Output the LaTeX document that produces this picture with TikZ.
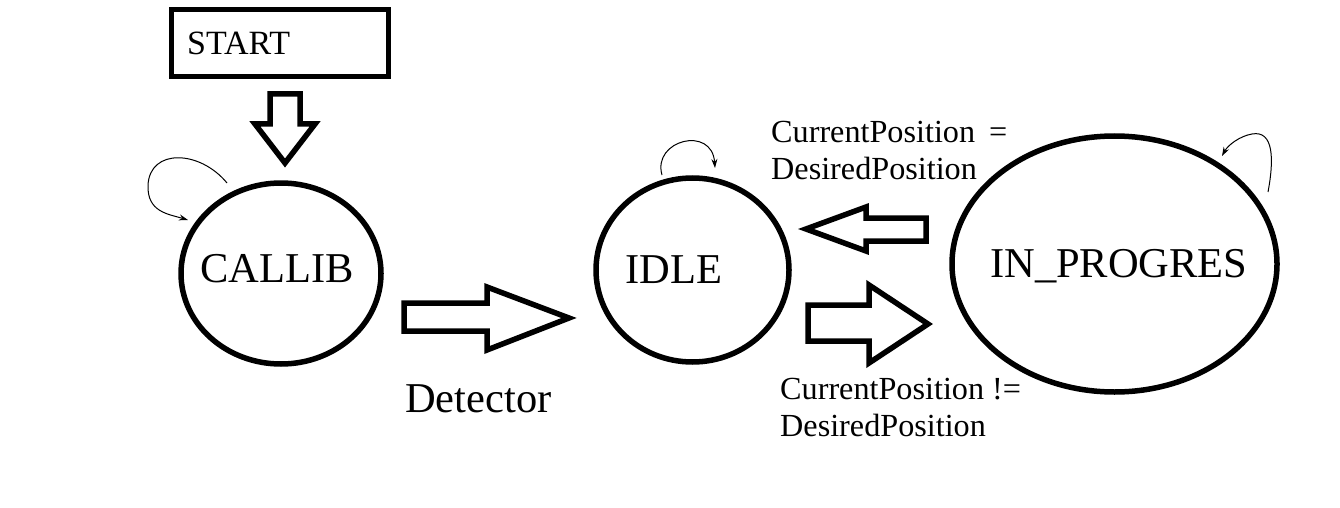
\documentclass[tikz,border=0pt]{standalone}
\usepackage{fontspec}
\setmainfont{Liberation Serif}
\usetikzlibrary{shapes.geometric,arrows.meta}
\begin{document}
\begin{tikzpicture}[x=1pt,y=-1pt,
  state/.style={ellipse,draw,line width=5.5pt,inner sep=0pt},
  blockarrow/.style={draw,line width=5.5pt,line join=miter},
  selfloop/.style={draw,line width=1pt,-{Stealth[length=9pt,width=6pt]}},
  bigtext/.style={inner sep=0pt,anchor=base west,font=\fontsize{42.5}{48}\selectfont},
  smalltext/.style={inner sep=0pt,anchor=base west,align=left,font=\fontsize{32.2}{37}\selectfont}]
\useasboundingbox (0,0) rectangle (1340,508);
% START box
\node[draw,line width=5.5pt,minimum width=217pt,minimum height=67pt,inner sep=0pt] (start) at (280,43) {};
\node[smalltext,font=\fontsize{34}{37}\selectfont] (starttext) at (187,55) {START};
% states
\node[state,minimum width=200pt,minimum height=181pt] (callib) at (281,273.5) {};
\node[state,minimum width=193pt,minimum height=184pt] (idle) at (692.5,270) {};
\node[state,minimum width=325pt,minimum height=256pt] (inprog) at (1114.5,264) {};
\node[bigtext] (callibtext) at (200,282) {CALLIB};
\node[bigtext] (idletext) at (625,283) {IDLE};
\node[bigtext] (inprogtext) at (990,277) {IN\_PROGRES};
% block arrows
\draw[blockarrow] (270,94) -- (300,94) -- (300,124) -- (315,124) -- (285,163) -- (255,124) -- (270,124) -- cycle;
\draw[blockarrow] (404,303) -- (487,303) -- (487,287) -- (569,318) -- (487,350) -- (487,331) -- (404,331) -- cycle;
\draw[blockarrow] (926,218) -- (866,218) -- (866,207) -- (806,229) -- (866,251) -- (866,241) -- (926,241) -- cycle;
\draw[blockarrow] (808,305) -- (869,305) -- (869,285) -- (928,324) -- (869,363) -- (869,341) -- (808,341) -- cycle;
% labels
\node[bigtext] (dettext) at (405,412) {Detector};
\node[smalltext,anchor=north west] (eqtext) at (771,120.5) {CurrentPosition\hspace{14pt}=\\DesiredPosition};
\node[smalltext,anchor=north west] (neqtext) at (780,377.5) {CurrentPosition !=\\DesiredPosition};
% self loops
\draw[selfloop] (227,183) .. controls (200,150) and (150,148) .. (148,185) .. controls (147,212) and (168,214) .. (188,220);
\draw[selfloop] (662,175) .. controls (652,140) and (712,125) .. (715,168);
\draw[selfloop] (1268,192) .. controls (1274,160) and (1274,130) .. (1252,134) .. controls (1240,136) and (1228,145) .. (1222,156);
\end{tikzpicture}
\end{document}
